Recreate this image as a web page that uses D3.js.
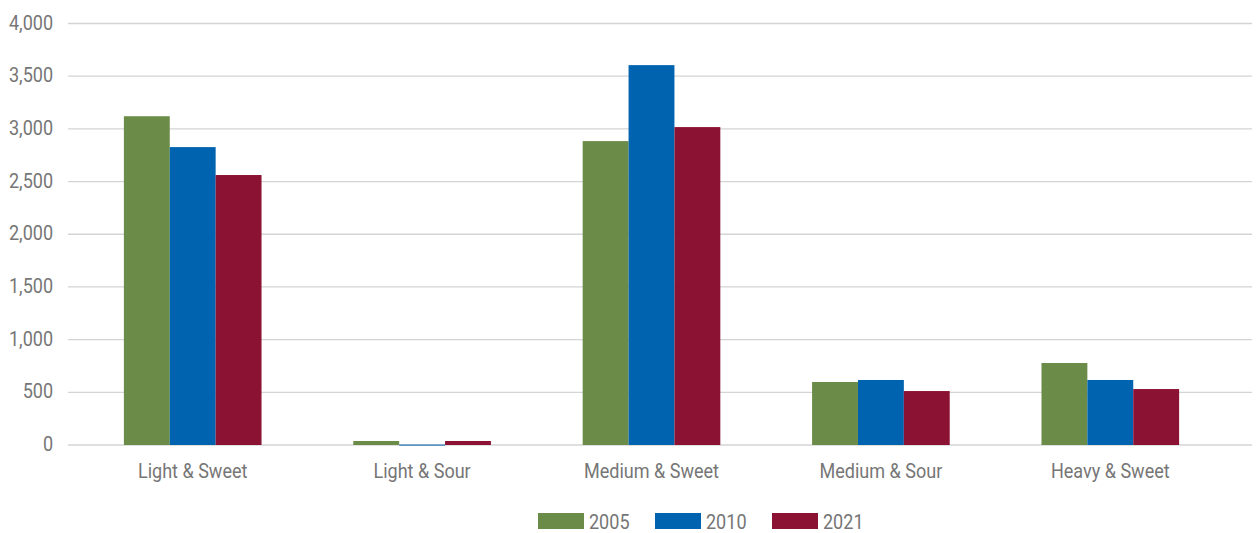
<!DOCTYPE html>
<html><head><meta charset="utf-8">
<script src="https://cdn.jsdelivr.net/npm/d3@7"></script>
<style>body{margin:0;background:#fff;} text{font-family:Roboto,"Noto Sans",sans-serif;fill:#767676;}</style>
</head><body><svg id="c" width="1260" height="533"></svg>
<script>
const categories = ["Light & Sweet","Light & Sour","Medium & Sweet","Medium & Sour","Heavy & Sweet"];
const seriesNames = ["2005","2010","2021"];
const v2005 = [3120, 38, 2884, 598, 778];
const v2010 = [2827, 4, 3605, 617, 617];
const v2021 = [2562, 38, 3017, 512, 531];
const yTicks = [0,500,1000,1500,2000,2500,3000,3500,4000];
const colors = ["#6A8C48","#0063AF","#8B1232"];
const values = [v2005, v2010, v2021];
const FS = "20.5px", SX = 0.88;

const svg = d3.select("#c");
const y = d3.scaleLinear().domain([0,4000]).range([445,23.5]);
const x = d3.scaleBand().domain(categories).range([78,1225]).paddingInner(0.4).paddingOuter(0.2);
const x1 = d3.scaleBand().domain(seriesNames).range([0,x.bandwidth()]);

svg.append("g").selectAll("line").data(yTicks).join("line")
  .attr("x1",68).attr("x2",1252).attr("y1",d=>y(d)).attr("y2",d=>y(d))
  .attr("stroke","#d4d4d4").attr("stroke-width",1.3);

const yAxis = svg.append("g").attr("transform","translate(68,-1)")
  .call(d3.axisLeft(y).tickValues(yTicks).tickSize(0).tickPadding(17).tickFormat(d3.format(",")));
yAxis.select(".domain").remove();
yAxis.selectAll("text").style("font-size",FS).attr("fill","#767676").attr("transform",`scale(${SX},1)`);

categories.forEach((c,i)=>{
  svg.append("g").attr("transform",`translate(${x(c)},0)`).selectAll("rect")
    .data(seriesNames.map((s,j)=>({s,v:values[j][i],j}))).join("rect")
    .attr("x",d=>x1(d.s)).attr("width",x1.bandwidth())
    .attr("y",d=>y(d.v)).attr("height",d=>Math.max(1,y(0)-y(d.v)))
    .attr("fill",d=>colors[d.j]);
});

const xAxis = svg.append("g").attr("transform","translate(0,445)")
  .call(d3.axisBottom(x).tickSize(0).tickPadding(18));
xAxis.select(".domain").remove();
xAxis.selectAll("text").style("font-size",FS).attr("fill","#767676").attr("transform",`scale(${SX},1)`);

const legX = [538,655,772];
const lg = svg.append("g").selectAll("g").data(seriesNames).join("g")
  .attr("transform",(d,i)=>`translate(${legX[i]},513)`);
lg.append("rect").attr("width",46).attr("height",16).attr("fill",(d,i)=>colors[i]);
lg.append("text").attr("x",51/SX).attr("y",15.5).attr("transform",`scale(${SX},1)`).style("font-size",FS).text(d=>d);
</script></body></html>
